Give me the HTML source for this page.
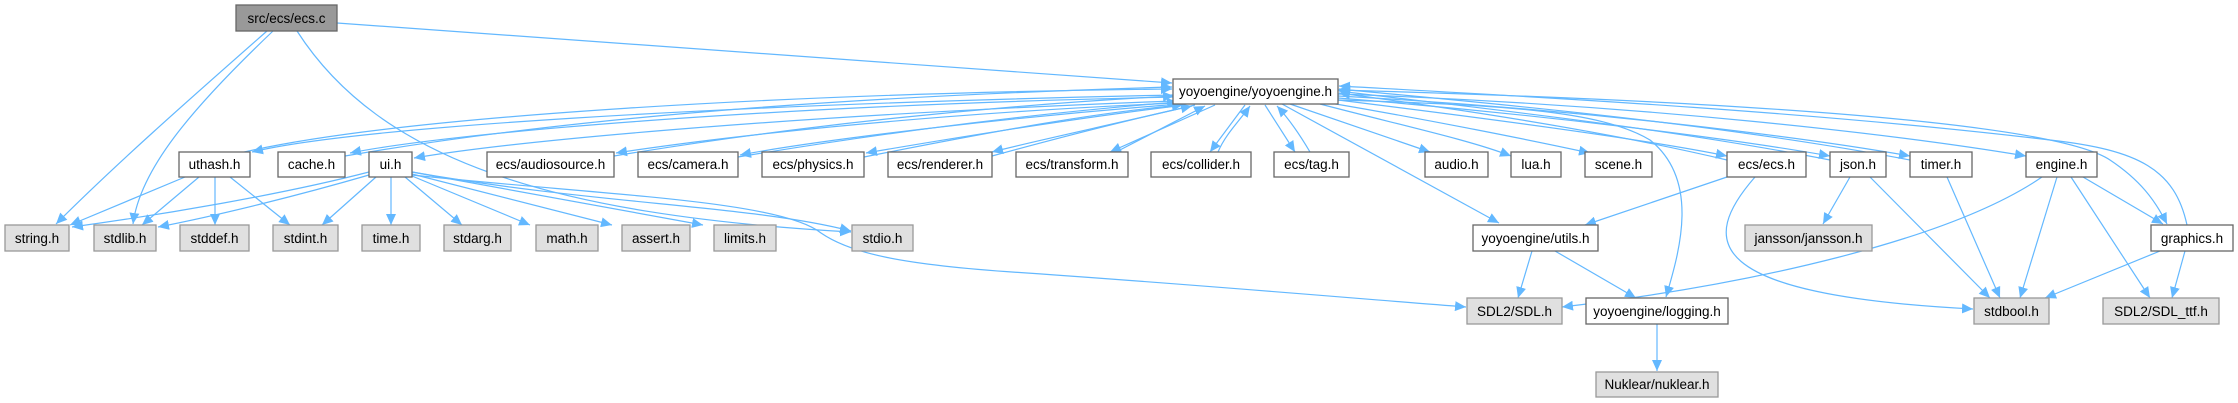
<!DOCTYPE html>
<html><head><meta charset="utf-8"><style>
html,body{margin:0;padding:0;background:#fff;}
svg{display:block;}
text{font-family:"Liberation Sans",Arial,sans-serif;font-size:13.5px;fill:#000;}
</style></head><body>
<svg width="2238" height="403" viewBox="0 0 2238 403" xmlns="http://www.w3.org/2000/svg">
<defs>
<marker id="a" markerUnits="userSpaceOnUse" markerWidth="12" markerHeight="10" refX="11" refY="5" orient="auto">
<path d="M0,0 L11,5 L0,10 z" fill="#63b8ff"/>
</marker>
</defs>
<g fill="none" stroke="#63b8ff" stroke-width="1.2" marker-end="url(#a)">
<!-- ecs.c -->
<path d="M337,23 L1172,83"/>
<path d="M267,31 C200,90 120,160 56,224"/>
<path d="M273,31 C190,110 140,170 133,224"/>
<path d="M297,31 C380,160 550,215 851,232"/>
<!-- yoyo forward -->
<path d="M1173,95 C700,105 350,128 252,152"/>
<path d="M1173,97 C760,106 450,133 350,153"/>
<path d="M1173,101 C800,115 520,140 414,158"/>
<path d="M1175,103 C900,115 700,140 616,153"/>
<path d="M1180,104 C1000,118 820,140 740,155"/>
<path d="M1185,105 C1060,120 930,142 866,153"/>
<path d="M1195,105 C1110,125 1030,142 992,152"/>
<path d="M1215,105 L1110,152"/>
<path d="M1245,105 L1210,152"/>
<path d="M1265,105 L1295,152"/>
<path d="M1290,104 L1430,152"/>
<path d="M1320,104 C1400,125 1470,140 1511,156"/>
<path d="M1330,103 C1430,120 1530,140 1590,153"/>
<path d="M1338,100 C1500,120 1650,140 1727,156"/>
<path d="M1338,98 C1550,115 1740,140 1830,156"/>
<path d="M1338,96 C1600,110 1820,140 1910,156"/>
<path d="M1338,94 C1650,105 1900,135 2026,156"/>
<path d="M1338,90 C1700,100 2050,120 2110,160 C2140,180 2155,200 2167,224"/>
<path d="M1282,104 L1499,223"/>
<path d="M1338,100 C1500,105 1600,110 1650,140 C1700,180 1680,250 1666,297"/>
<!-- back edges -->
<path d="M240,153 C400,115 800,93 1172,89"/>
<path d="M345,156 C600,112 900,95 1172,87"/>
<path d="M614,156 C800,125 1000,105 1174,96"/>
<path d="M738,157 C900,130 1050,112 1178,102"/>
<path d="M864,157 C1000,130 1100,112 1183,105"/>
<path d="M992,156 C1080,132 1150,115 1192,106"/>
<path d="M1116,152 L1205,106"/>
<path d="M1218,152 C1225,135 1240,120 1250,106"/>
<path d="M1310,152 C1300,135 1290,120 1277,106"/>
<path d="M1727,160 C1600,130 1450,108 1339,93"/>
<path d="M1830,160 C1650,125 1450,105 1339,91"/>
<path d="M1910,160 C1700,120 1450,100 1339,89"/>
<path d="M2187,225 C2175,170 2140,150 2050,140 C1800,110 1500,95 1339,86"/>
<!-- uthash -->
<path d="M185,177 L70,225"/>
<path d="M199,177 L142,225"/>
<path d="M215,177 L215,225"/>
<path d="M230,177 L290,225"/>
<!-- ui -->
<path d="M369,172 C280,195 160,215 72,227"/>
<path d="M369,175 C300,195 220,215 158,227"/>
<path d="M376,177 L322,225"/>
<path d="M391,177 L391,225"/>
<path d="M405,177 L462,225"/>
<path d="M412,176 L530,225"/>
<path d="M412,174 L612,225"/>
<path d="M412,172 L703,225"/>
<path d="M412,172 C600,205 750,205 851,231"/>
<path d="M412,175 C600,195 780,200 821,233 C850,253 900,265 1027,273 C1200,285 1350,298 1466,307"/>
<!-- ecs/ecs -->
<path d="M1727,177 L1585,225"/>
<path d="M1755,177 C1700,240 1700,295 1973,309"/>
<!-- json -->
<path d="M1850,177 L1823,224"/>
<path d="M1870,177 L1990,298"/>
<path d="M1947,177 L2000,298"/>
<!-- engine -->
<path d="M2042,177 C1950,240 1750,285 1562,307"/>
<path d="M2057,177 L2020,298"/>
<path d="M2071,177 L2150,298"/>
<path d="M2083,177 L2163,224"/>
<!-- graphics -->
<path d="M2160,251 L2045,298"/>
<path d="M2185,251 L2172,298"/>
<!-- utils -->
<path d="M1532,251 L1518,298"/>
<path d="M1555,251 L1636,298"/>
<path d="M1657,324 L1657,371"/>
</g>
<g stroke-width="1.3">
<rect x="236" y="5" width="101" height="26" fill="#999" stroke="#666"/>
<g fill="#fff" stroke="#666">
<rect x="1173" y="79" width="165" height="25"/>
<rect x="179" y="152" width="71" height="25"/>
<rect x="278" y="152" width="67" height="25"/>
<rect x="369" y="152" width="43" height="25"/>
<rect x="487" y="152" width="127" height="25"/>
<rect x="638" y="152" width="100" height="25"/>
<rect x="762" y="152" width="102" height="25"/>
<rect x="888" y="152" width="104" height="25"/>
<rect x="1016" y="152" width="112" height="25"/>
<rect x="1151" y="152" width="100" height="25"/>
<rect x="1274" y="152" width="75" height="25"/>
<rect x="1425" y="152" width="63" height="25"/>
<rect x="1511" y="152" width="50" height="25"/>
<rect x="1585" y="152" width="67" height="25"/>
<rect x="1727" y="152" width="79" height="25"/>
<rect x="1830" y="152" width="56" height="25"/>
<rect x="1910" y="152" width="62" height="25"/>
<rect x="2026" y="152" width="71" height="25"/>
<rect x="1473" y="225" width="125" height="26"/>
<rect x="2151" y="225" width="82" height="26"/>
<rect x="1586" y="298" width="142" height="26"/>
</g>
<g fill="#e0e0e0" stroke="#999">
<rect x="5" y="225" width="64" height="26"/>
<rect x="94" y="225" width="62" height="26"/>
<rect x="180" y="225" width="69" height="26"/>
<rect x="273" y="225" width="65" height="26"/>
<rect x="362" y="225" width="58" height="26"/>
<rect x="444" y="225" width="67" height="26"/>
<rect x="536" y="225" width="62" height="26"/>
<rect x="622" y="225" width="68" height="26"/>
<rect x="714" y="225" width="62" height="26"/>
<rect x="852" y="225" width="61" height="26"/>
<rect x="1745" y="225" width="127" height="26"/>
<rect x="1467" y="298" width="95" height="26"/>
<rect x="1974" y="298" width="75" height="26"/>
<rect x="2103" y="298" width="116" height="26"/>
<rect x="1596" y="372" width="122" height="25"/>
</g>
</g>
<g text-anchor="middle">
<text x="286.5" y="23">src/ecs/ecs.c</text>
<text x="1255.5" y="96">yoyoengine/yoyoengine.h</text>
<text x="214.5" y="169">uthash.h</text>
<text x="311.5" y="169">cache.h</text>
<text x="390.5" y="169">ui.h</text>
<text x="550.5" y="169">ecs/audiosource.h</text>
<text x="688" y="169">ecs/camera.h</text>
<text x="813" y="169">ecs/physics.h</text>
<text x="940" y="169">ecs/renderer.h</text>
<text x="1072" y="169">ecs/transform.h</text>
<text x="1201" y="169">ecs/collider.h</text>
<text x="1311.5" y="169">ecs/tag.h</text>
<text x="1456.5" y="169">audio.h</text>
<text x="1536" y="169">lua.h</text>
<text x="1618.5" y="169">scene.h</text>
<text x="1766.5" y="169">ecs/ecs.h</text>
<text x="1858" y="169">json.h</text>
<text x="1941" y="169">timer.h</text>
<text x="2061.5" y="169">engine.h</text>
<text x="37" y="243">string.h</text>
<text x="125" y="243">stdlib.h</text>
<text x="214.5" y="243">stddef.h</text>
<text x="305.5" y="243">stdint.h</text>
<text x="391" y="243">time.h</text>
<text x="477.5" y="243">stdarg.h</text>
<text x="567" y="243">math.h</text>
<text x="656" y="243">assert.h</text>
<text x="745" y="243">limits.h</text>
<text x="882.5" y="243">stdio.h</text>
<text x="1535.5" y="243">yoyoengine/utils.h</text>
<text x="1808.5" y="243">jansson/jansson.h</text>
<text x="2192" y="243">graphics.h</text>
<text x="1514.5" y="316">SDL2/SDL.h</text>
<text x="1657" y="316">yoyoengine/logging.h</text>
<text x="2011.5" y="316">stdbool.h</text>
<text x="2161" y="316">SDL2/SDL_ttf.h</text>
<text x="1657" y="389">Nuklear/nuklear.h</text>
</g>
</svg>
</body></html>
